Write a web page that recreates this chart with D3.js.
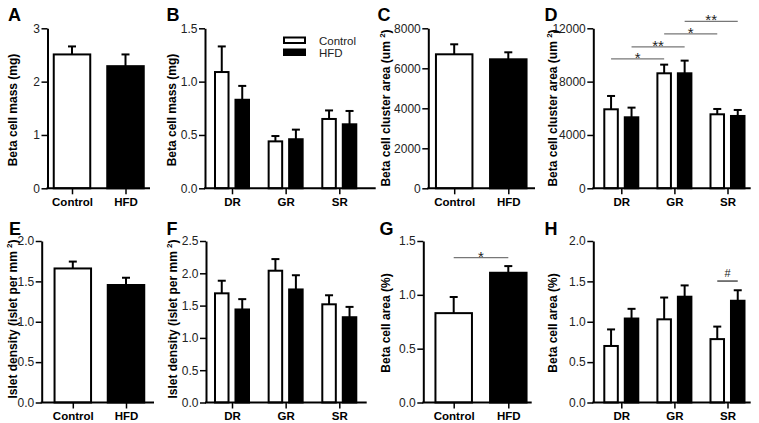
<!DOCTYPE html>
<html>
<head>
<meta charset="utf-8">
<script src="https://cdn.jsdelivr.net/npm/d3@7"></script>
<style>
  html, body { margin: 0; padding: 0; background: #fff; }
  svg { display: block; font-family: "Liberation Sans", Arial, sans-serif; }
</style>
</head>
<body>
<svg id="chart" width="759" height="423"></svg>
<script>
// ---------- DATA ----------
const conditions = ["Control", "HFD"];
const regions = ["DR", "GR", "SR"];

// A: Beta cell mass (mg)
const massTotal = [2.51, 2.29];
const massTotalSem = [0.15, 0.22];
const massTicks = [0, 1, 2, 3];

// B: Beta cell mass per region (mg)
const massCtrl = [1.09, 0.44, 0.65];
const massCtrlSem = [0.24, 0.05, 0.08];
const massHfd = [0.83, 0.46, 0.60];
const massHfdSem = [0.13, 0.09, 0.125];
const massRegionTicks = [0, 0.5, 1.0, 1.5];

// C: Beta cell cluster area (um^2)
const clusterTotal = [6700, 6450];
const clusterTotalSem = [500, 350];
const clusterTicks = [0, 2000, 4000, 6000, 8000];

// D: Beta cell cluster area per region
const clusterCtrl = [5925, 8625, 5550];
const clusterCtrlSem = [1000, 650, 400];
const clusterHfd = [5325, 8625, 5425];
const clusterHfdSem = [725, 950, 450];
const clusterRegionTicks = [0, 4000, 8000, 12000];
// significance brackets: [regionA, condition, regionB, condition, level, label]
const clusterSig = [
  ["DR", "Control", "GR", "Control", 9700, "*"],
  ["DR", "HFD", "GR", "HFD", 10600, "**"],
  ["GR", "Control", "SR", "Control", 11575, "*"],
  ["GR", "HFD", "SR", "HFD", 12525, "**"]
];

// E: Islet density (islet per mm^2)
const densityTotal = [1.66, 1.455];
const densityTotalSem = [0.085, 0.09];
const densityTicks = [0, 0.5, 1.0, 1.5, 2.0];

// F: Islet density per region
const densityCtrl = [1.69, 2.04, 1.52];
const densityCtrlSem = [0.195, 0.18, 0.14];
const densityHfd = [1.44, 1.75, 1.32];
const densityHfdSem = [0.16, 0.22, 0.16];
const densityRegionTicks = [0, 0.5, 1.0, 1.5, 2.0, 2.5];

// G: Beta cell area (%)
const areaTotal = [0.83, 1.205];
const areaTotalSem = [0.15, 0.062];
const areaTicks = [0, 0.5, 1.0, 1.5];
const areaSig = [["Control", "HFD", 1.345, "*"]];

// H: Beta cell area per region (%)
const areaCtrl = [0.70, 1.03, 0.785];
const areaCtrlSem = [0.205, 0.27, 0.155];
const areaHfd = [1.04, 1.31, 1.26];
const areaHfdSem = [0.12, 0.14, 0.13];
const areaRegionTicks = [0, 0.5, 1.0, 1.5, 2.0];
const areaRegionSig = [["SR", "Control", "SR", "HFD", 1.504, "#"]];

// ---------- DRAWING ----------
const svg = d3.select("#chart");
const FONT = '"Liberation Sans", Arial, sans-serif';
const fills = { "Control": "#fff", "HFD": "#000" };

function yAxis(g, y, ticks, fmt) {
  const ax = g.append("g")
    .attr("transform", `translate(${g.node().__x0},0)`)
    .call(d3.axisLeft(y).tickValues(ticks).tickSize(6).tickSizeOuter(0).tickPadding(1.5).tickFormat(fmt));
  ax.select(".domain").attr("stroke", "#000").attr("stroke-width", 2);
  ax.selectAll(".tick line").attr("stroke", "#000").attr("stroke-width", 1.5);
  ax.selectAll(".tick text").attr("font-size", 12).attr("font-family", FONT).attr("fill", "#222");
}

function xAxis(g, x, x0, x1, yb) {
  g.append("line").attr("x1", x0 - 1).attr("x2", x1).attr("y1", yb).attr("y2", yb)
    .attr("stroke", "#000").attr("stroke-width", 2);
  const ax = g.append("g").attr("transform", `translate(0,${yb})`)
    .call(d3.axisBottom(x).tickSize(6).tickSizeOuter(0).tickPadding(3.5));
  ax.select(".domain").remove();
  ax.selectAll(".tick line").attr("stroke", "#000").attr("stroke-width", 1.5);
  ax.selectAll(".tick text").attr("font-size", 11.5).attr("font-weight", "bold")
    .attr("font-family", FONT).attr("fill", "#000");
}

function yLabel(text, sup, bx, cy) {
  const t = svg.append("text")
    .attr("transform", `translate(${bx},${cy}) rotate(-90)`)
    .attr("text-anchor", "middle")
    .attr("font-size", 12).attr("font-weight", "bold").attr("font-family", FONT)
    .attr("fill", "#000");
  if (sup) {
    t.append("tspan").text(text + " ");
    t.append("tspan").text("2").attr("font-size", 8).attr("dy", -5);
    t.append("tspan").text(")").attr("dy", 5);
  } else {
    t.text(text);
  }
}

function panelLetter(letter, x, y) {
  svg.append("text").attr("x", x).attr("y", y).text(letter)
    .attr("font-size", 18).attr("font-weight", "bold").attr("font-family", FONT).attr("fill", "#000");
}

function errorBar(g, cx, yv, ye) {
  g.append("line").attr("x1", cx).attr("x2", cx).attr("y1", yv).attr("y2", ye)
    .attr("stroke", "#000").attr("stroke-width", 2);
  g.append("line").attr("x1", cx - 4).attr("x2", cx + 4).attr("y1", ye).attr("y2", ye)
    .attr("stroke", "#000").attr("stroke-width", 2);
}

function sigLabel(g, xa, xb, yl, label, isHash) {
  g.append("line").attr("x1", xa).attr("x2", xb).attr("y1", yl).attr("y2", yl)
    .attr("stroke", isHash ? "#333" : "#777").attr("stroke-width", 1.3);
  g.append("text").attr("x", (xa + xb) / 2).attr("y", isHash ? yl - 4 : yl + 4)
    .attr("text-anchor", "middle").attr("font-size", isHash ? 11 : 15)
    .attr("font-family", FONT).attr("fill", "#222").text(label);
}

// Single panel (Control vs HFD)
function simplePanel(opt) {
  const g = svg.append("g");
  g.node().__x0 = opt.x0;
  const y = d3.scaleLinear().domain([0, opt.max]).range([opt.yb, opt.yt]);
  const x = d3.scalePoint().domain(conditions).range([opt.c1, opt.c2]);
  const bw = 36.5;
  const data = conditions.map((c, i) => ({ c, v: opt.values[i], s: opt.sem[i] }));
  data.forEach(d => errorBar(g, x(d.c), y(d.v), y(d.v + d.s)));
  g.selectAll("rect.bar").data(data).join("rect").attr("class", "bar")
    .attr("x", d => x(d.c) - bw / 2).attr("width", bw)
    .attr("y", d => y(d.v)).attr("height", d => opt.yb - y(d.v))
    .attr("fill", d => fills[d.c]).attr("stroke", "#000").attr("stroke-width", 2);
  yAxis(g, y, opt.ticks, opt.fmt);
  xAxis(g, x, opt.x0, opt.x1, opt.yb);
  (opt.sig || []).forEach(s => sigLabel(g, x(s[0]), x(s[1]), y(s[2]), s[3], s[3] === "#"));
}

// Grouped panel (regions x conditions)
function groupedPanel(opt) {
  const g = svg.append("g");
  g.node().__x0 = opt.x0;
  const y = d3.scaleLinear().domain([0, opt.max]).range([opt.yb, opt.yt]);
  const x = d3.scalePoint().domain(regions).range([opt.g1, opt.g3]);
  const inner = d3.scaleBand().domain(conditions).range([-17, 17]).paddingInner(0.34);
  const bw = inner.bandwidth();
  const data = [];
  regions.forEach((r, i) => {
    data.push({ r, c: "Control", v: opt.ctrl[i], s: opt.ctrlSem[i] });
    data.push({ r, c: "HFD", v: opt.hfd[i], s: opt.hfdSem[i] });
  });
  const cx = d => x(d.r) + inner(d.c) + bw / 2;
  data.forEach(d => errorBar(g, cx(d), y(d.v), y(d.v + d.s)));
  g.selectAll("rect.bar").data(data).join("rect").attr("class", "bar")
    .attr("x", d => cx(d) - bw / 2).attr("width", bw)
    .attr("y", d => y(d.v)).attr("height", d => opt.yb - y(d.v))
    .attr("fill", d => fills[d.c]).attr("stroke", "#000").attr("stroke-width", 2);
  yAxis(g, y, opt.ticks, opt.fmt);
  xAxis(g, x, opt.x0, opt.x1, opt.yb);
  (opt.sig || []).forEach(s => {
    const xa = cx({ r: s[0], c: s[1] }), xb = cx({ r: s[2], c: s[3] });
    sigLabel(g, xa, xb, y(s[4]), s[5], s[5] === "#");
  });
  if (opt.legend) {
    const lg = svg.append("g");
    conditions.forEach((c, i) => {
      const ly = opt.legend.y + i * 12;
      lg.append("rect").attr("x", opt.legend.x).attr("y", ly).attr("width", 21).attr("height", 5.5)
        .attr("fill", fills[c]).attr("stroke", "#000").attr("stroke-width", 2);
      lg.append("text").attr("x", opt.legend.x + 35).attr("y", ly + 7.5).text(c)
        .attr("font-size", 11.5).attr("font-family", FONT).attr("fill", "#222");
    });
  }
}

const f0 = d3.format("d"), f1 = d3.format(".1f");
const TOP = { yt: 28.3, yb: 188.3 };
const BOT = { yt: 241, yb: 402.5 };

// Panel A
simplePanel({ x0: 47.5, x1: 150, ...TOP, c1: 72, c2: 125.5, max: 3, values: massTotal, sem: massTotalSem, ticks: massTicks, fmt: f0 });
// Panel B
groupedPanel({ x0: 205, x1: 375.7, ...TOP, g1: 232, g3: 339.3, max: 1.5, ctrl: massCtrl, ctrlSem: massCtrlSem, hfd: massHfd, hfdSem: massHfdSem, ticks: massRegionTicks, fmt: f1, legend: { x: 284, y: 37.5 } });
// Panel C
simplePanel({ x0: 428.3, x1: 535, ...TOP, c1: 454.2, c2: 508.3, max: 8000, values: clusterTotal, sem: clusterTotalSem, ticks: clusterTicks, fmt: f0 });
// Panel D
groupedPanel({ x0: 593.3, x1: 750.7, ...TOP, g1: 621.3, g3: 727.5, max: 12000, ctrl: clusterCtrl, ctrlSem: clusterCtrlSem, hfd: clusterHfd, hfdSem: clusterHfdSem, ticks: clusterRegionTicks, fmt: f0, sig: clusterSig });
// Panel E
simplePanel({ x0: 41.7, x1: 154, ...BOT, c1: 72.8, c2: 126, max: 2, values: densityTotal, sem: densityTotalSem, ticks: densityTicks, fmt: f1 });
// Panel F
groupedPanel({ x0: 206, x1: 366.7, ...BOT, g1: 232, g3: 339.3, max: 2.5, ctrl: densityCtrl, ctrlSem: densityCtrlSem, hfd: densityHfd, hfdSem: densityHfdSem, ticks: densityRegionTicks, fmt: f1 });
// Panel G
simplePanel({ x0: 423.3, x1: 531.7, ...BOT, c1: 453.7, c2: 508.3, max: 1.5, values: areaTotal, sem: areaTotalSem, ticks: areaTicks, fmt: f1, sig: areaSig });
// Panel H
groupedPanel({ x0: 593.3, x1: 750.7, ...BOT, g1: 621.3, g3: 727.5, max: 2, ctrl: areaCtrl, ctrlSem: areaCtrlSem, hfd: areaHfd, hfdSem: areaHfdSem, ticks: areaRegionTicks, fmt: f1, sig: areaRegionSig });

// Y-axis labels
yLabel("Beta cell mass (mg)", false, 16.5, 110);
yLabel("Beta cell mass (mg)", false, 176, 110);
yLabel("Beta cell cluster area (um", true, 390, 108);
yLabel("Beta cell cluster area (um", true, 557, 108);
yLabel("Islet density (islet per mm", true, 17, 319);
yLabel("Islet density (islet per mm", true, 177, 319);
yLabel("Beta cell area (%)", false, 390, 323);
yLabel("Beta cell area (%)", false, 557, 323);

// Panel letters
panelLetter("A", 8, 20.5);
panelLetter("B", 166.5, 20.5);
panelLetter("C", 377.5, 20.5);
panelLetter("D", 544.5, 20.5);
panelLetter("E", 9, 235);
panelLetter("F", 166.5, 235);
panelLetter("G", 379.5, 235);
panelLetter("H", 544.5, 235);
</script>
</body>
</html>
